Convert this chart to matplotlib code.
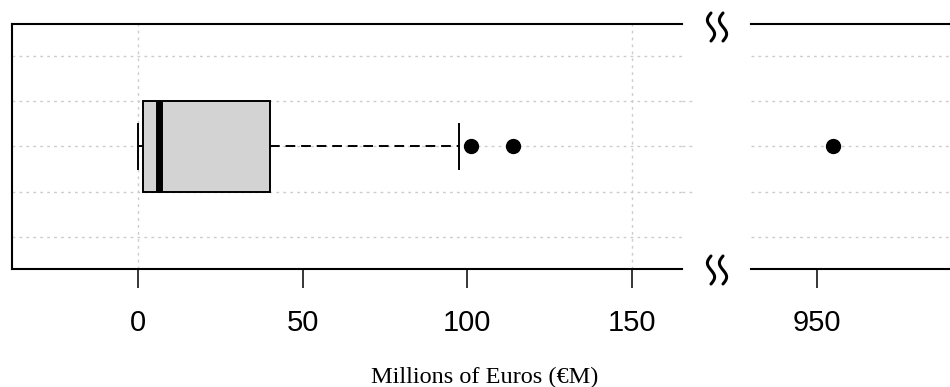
import numpy as np
import matplotlib
matplotlib.use("Agg")
import matplotlib.pyplot as plt
from matplotlib.lines import Line2D

# ---- data ----
whisker_low = 0.0
q1 = 1.6
median = 6.2
q3 = 40.2
whisker_high = 97.5
outliers = [101.1, 113.8, 954.9]

left_ticks = [0, 50, 100, 150]
right_ticks = [950]
left_xlim = (-38.3, 165.2)
right_xlim = (929.9, 1002.4)
ygrid = [0.6, 0.8, 1.0, 1.2, 1.4]
ygrid_long = [0.8, 1.0, 1.2]
xgrid = [0, 150]
xlabel = "Millions of Euros (€M)"

W, H = 950, 387
fig = plt.figure(figsize=(W / 100, H / 100), dpi=100)

def px_axes(x0, x1, ytop, ybot):
    return fig.add_axes([x0 / W, (H - ybot) / H, (x1 - x0) / W, (ybot - ytop) / H])

axL = px_axes(12, 682, 24, 269)
axR = px_axes(751, 990, 24, 269)

stats = [dict(med=median, q1=q1, q3=q3, whislo=whisker_low, whishi=whisker_high,
              fliers=outliers)]

GRID = "#cccccc"
GRID_LS = (0, (2, 3))

for ax in (axL, axR):
    for y in ygrid:
        ax.axhline(y, color=GRID, lw=1.0, ls=GRID_LS, zorder=0)
    ax.bxp(stats, positions=[1], widths=0.4, vert=False, patch_artist=True,
           showfliers=True,
           boxprops=dict(facecolor="#d3d3d3", edgecolor="black", linewidth=1.4),
           medianprops=dict(color="black", linewidth=5, solid_capstyle="butt"),
           whiskerprops=dict(color="black", linewidth=1.4, linestyle=(0, (5, 3))),
           capprops=dict(color="black", linewidth=1.4),
           capwidths=0.2,
           flierprops=dict(marker="o", markerfacecolor="black", markeredgecolor="black",
                           markersize=10, linestyle="none"))
    ax.set_ylim(0.46, 1.54)
    ax.set_yticks([])
    for s in ax.spines.values():
        s.set_linewidth(1.5)
    ax.spines["right"].set_visible(False)
    ax.tick_params(axis="x", direction="out", length=13.5, width=1.1, pad=15,
                   labelsize=21)

for x in xgrid:
    axL.axvline(x, color=GRID, lw=1.0, ls=GRID_LS, zorder=0)

axL.set_xlim(*left_xlim)
axL.set_xticks(left_ticks)
axR.set_xlim(*right_xlim)
axR.set_xticks(right_ticks)
axR.spines["left"].set_visible(False)

# grid lines overrunning the right end of the left panel (as in the reference)
for y in ygrid_long:
    axL.plot([left_xlim[1], left_xlim[1] + 3.6], [y, y], color=GRID, lw=1.0,
             ls=GRID_LS, clip_on=False, zorder=0)

for ax in (axL, axR):
    for lab in ax.get_xticklabels():
        lab.set_family("Liberation Sans")
        lab.set_fontsize(21)

# break marks
def squiggle(xc, yc):
    t = np.linspace(0, 1, 80)
    ys = yc + (t - 0.5) * 28
    xs = xc - 3.6 * np.sin(2 * np.pi * t)
    fig.add_artist(Line2D(xs / W, (H - ys) / H, color="black", lw=2.2,
                          solid_capstyle="round", transform=fig.transFigure))

for yc in (27, 270):
    squiggle(711, yc)
    squiggle(723, yc)

fig.text(484.5 / W, (H - 383) / H, xlabel, ha="center", va="baseline",
         family="Liberation Serif", fontsize=17.5)

fig.savefig("out.png", dpi=100)
